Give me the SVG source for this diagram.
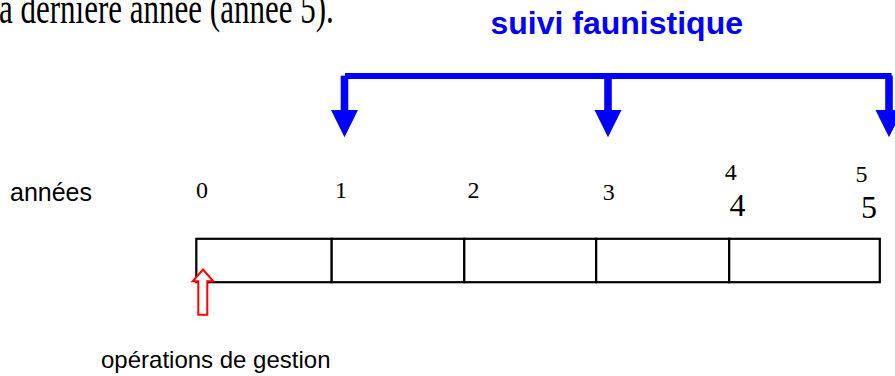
<svg xmlns="http://www.w3.org/2000/svg" width="895" height="376" viewBox="0 0 895 376">
  <style>
    .serif { font-family: "Liberation Serif", "Times New Roman", serif; fill: #000; }
    .sans { font-family: "Liberation Sans", Arial, sans-serif; fill: #000; }
    .small { font-size: 24px; }
    .big { font-size: 32px; }
    .title { font-family: "Liberation Sans", Arial, sans-serif; font-weight: bold; font-size: 32px; fill: #0000ff; }
    .cell { fill: #fff; stroke: #000; stroke-width: 2.2; }
    .bar { stroke: #0000ff; stroke-width: 6; fill: none; }
    .drop { stroke: #0000ff; stroke-width: 7.6; fill: none; marker-end: url(#blueHead); }
    .mgmt { fill: #fff; stroke: #ff0000; stroke-width: 2; }
  </style>
  <defs>
    <marker id="blueHead" markerUnits="userSpaceOnUse" markerWidth="28" markerHeight="28" refX="0" refY="13.5" orient="auto" overflow="visible">
      <path d="M0,0 L27.3,13.5 L0,27 Z" fill="#0000ff"/>
    </marker>
  </defs>

  <text class="serif" font-size="31" transform="translate(-1,23.3) scale(1,1.45)" x="0" y="0">a dernière année (année 5).</text>

  <g id="suivi-label">
    <text class="title" x="490.5" y="33.5">suivi faunistique</text>
  </g>

  <g id="connectors">
    <line class="bar" x1="345" y1="76" x2="891.5" y2="76"/>
    <line class="drop" x1="344.5" y1="75.7" x2="344.5" y2="110"/>
    <line class="drop" x1="608" y1="79" x2="608" y2="110"/>
    <line class="drop" x1="889" y1="75.7" x2="889" y2="110"/>
  </g>

  <g id="annees-label">
    <text class="sans" font-size="25" x="10" y="200.7">années</text>
  </g>

  <g id="year-labels">
    <text class="serif small" x="196.1" y="198">0</text>
    <text class="serif small" x="335" y="197.5">1</text>
    <text class="serif small" x="467.6" y="197.5">2</text>
    <text class="serif small" x="602.8" y="200">3</text>
    <text class="serif small" x="724.7" y="180">4</text>
    <text class="serif big" x="729.6" y="215.5">4</text>
    <text class="serif small" x="855.6" y="181.5">5</text>
    <text class="serif big" x="861.1" y="218">5</text>
  </g>

  <g id="timeline">
    <g id="year-1"><rect class="cell" x="196.3" y="238.8" width="135.4" height="43.4"/></g>
    <g id="year-2"><rect class="cell" x="331.7" y="238.8" width="132.6" height="43.4"/></g>
    <g id="year-3"><rect class="cell" x="464.3" y="238.8" width="131.9" height="43.4"/></g>
    <g id="year-4"><rect class="cell" x="596.2" y="238.8" width="133" height="43.4"/></g>
    <g id="year-5"><rect class="cell" x="729.2" y="238.8" width="150.6" height="43.4"/></g>
  </g>

  <g id="gestion-arrow">
    <polygon class="mgmt" points="203,269.5 213.3,281.3 207.3,281.3 207.3,314.7 198.3,314.7 198.3,281.3 192.7,281.3"/>
  </g>

  <g id="gestion-label">
    <text class="sans" font-size="24" x="101" y="368">opérations de gestion</text>
  </g>
</svg>
